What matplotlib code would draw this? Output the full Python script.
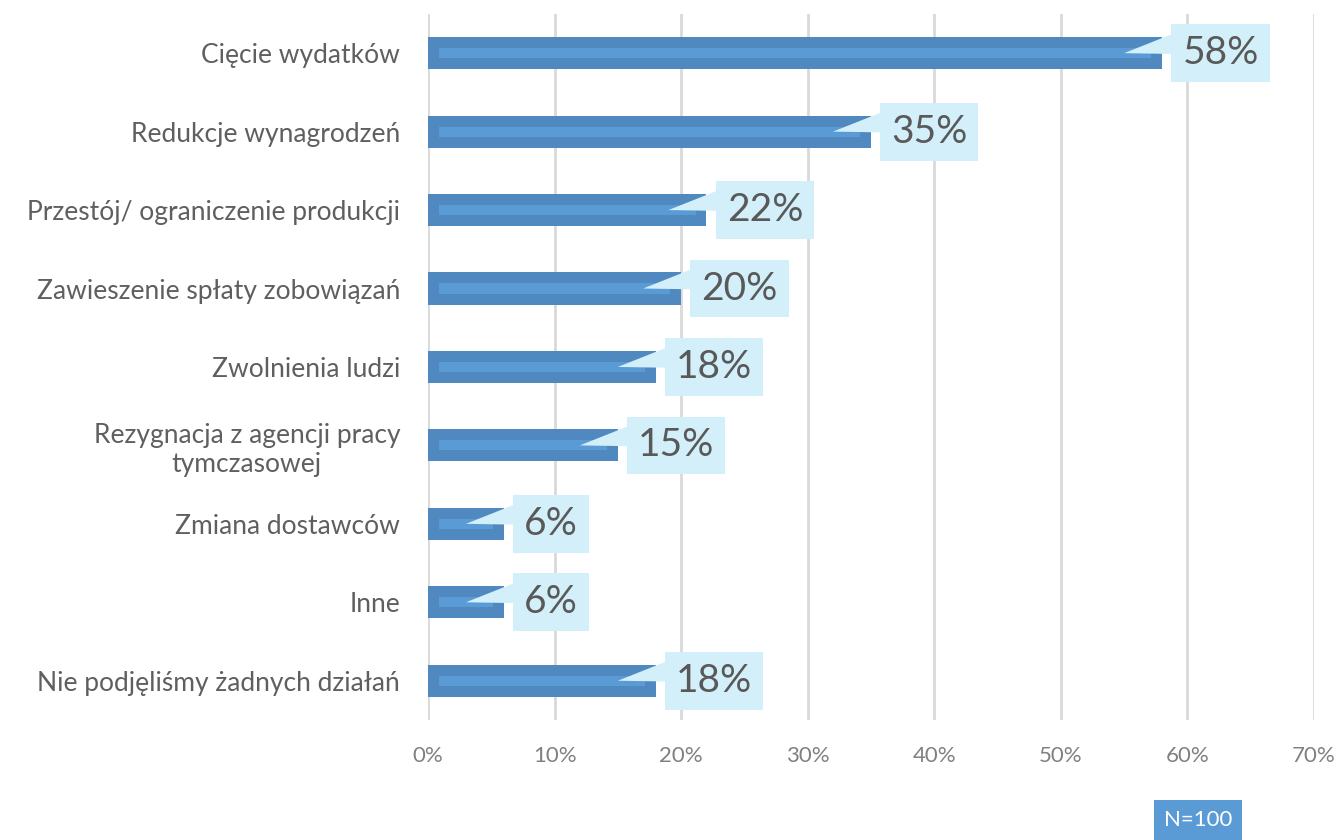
import matplotlib.pyplot as plt
from matplotlib.ticker import FuncFormatter

plt.rcParams['font.family'] = ['Lato', 'DejaVu Sans']

categories = ['Cięcie wydatków', 'Redukcje wynagrodzeń', 'Przestój/ ograniczenie produkcji',
              'Zawieszenie spłaty zobowiązań', 'Zwolnienia ludzi',
              'Rezygnacja z agencji pracy\ntymczasowej', 'Zmiana dostawców', 'Inne',
              'Nie podjęliśmy żadnych działań']
values = [58, 35, 22, 20, 18, 15, 6, 6, 18]
xticks = [0, 10, 20, 30, 40, 50, 60, 70]
note = 'N=100'

bar_col = '#5089C0'
stripe_col = '#5A9BD6'
box_col = '#D3EFF9'
text_col = '#595959'

fig = plt.figure(figsize=(13.42, 8.4), dpi=100)
ax = fig.add_axes([0.3189, 0.1429, 0.6602, 0.8405])

pos = list(range(len(values)))
ax.barh(pos, values, height=0.41, color=bar_col, zorder=2)
# lighter inner stripe
inset = 0.85
ax.barh(pos, [v - 2 * inset for v in values], left=inset, height=0.13,
        color=stripe_col, zorder=3)

for y, v in zip(pos, values):
    # callout pointer from the label box into the bar
    ax.fill([v - 3, v + 0.9, v + 0.9], [y, y - 0.25, y + 0.01],
            color=box_col, lw=0, zorder=4)
    ax.text(v + 1.6, y, '{}%'.format(v), ha='left', va='center', fontsize=28,
            color=text_col, zorder=5,
            bbox=dict(boxstyle='square,pad=0.28', fc=box_col, ec='none'))

ax.set_xlim(0, 70)
ax.set_ylim(8.5, -0.5)
ax.set_xticks(xticks)
ax.xaxis.set_major_formatter(FuncFormatter(lambda x, p: '{:.0f}%'.format(x)))
ax.set_yticks(pos)
ax.set_yticklabels(categories, fontsize=19, color='#5f5f5f', multialignment='center')
ax.tick_params(axis='x', labelsize=16, labelcolor='#808080', length=0, pad=19)
ax.tick_params(axis='y', length=0, pad=20)
ax.grid(axis='x', color='#D9D9D9', linewidth=2, zorder=0)
ax.set_axisbelow(True)
for s in ax.spines.values():
    s.set_visible(False)

fig.text(0.8927, 0.024, note, ha='center', va='center', fontsize=16, color='white',
         bbox=dict(boxstyle='square,pad=0.45', fc='#5B9BD5', ec='none'))

plt.savefig('out.png')
